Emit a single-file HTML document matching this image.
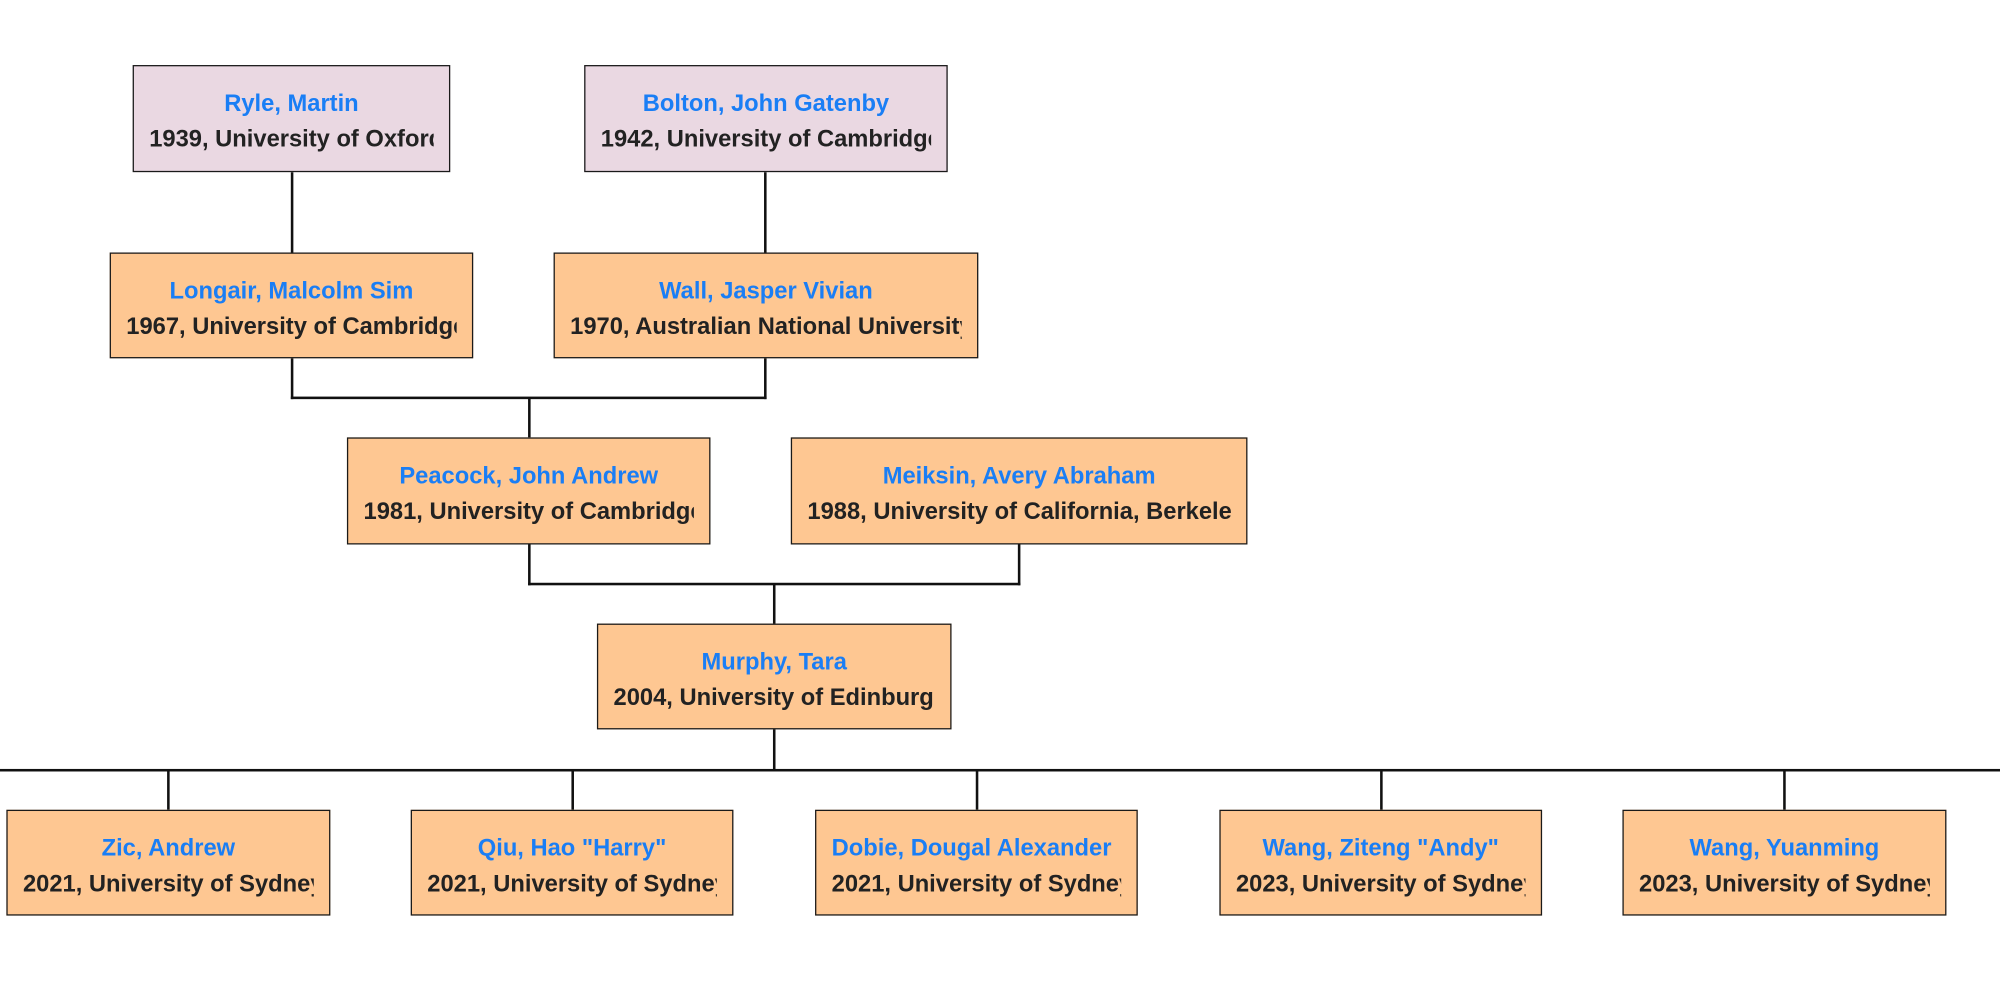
<!DOCTYPE html>
<html><head><meta charset="utf-8"><style>
html,body{margin:0;padding:0;background:#fff;width:2000px;height:987px;overflow:hidden}
#c{position:absolute;left:0;top:0;width:1568px;height:774px;transform:scale(1.27551,1.27519);transform-origin:0 0}
.b{position:absolute;box-sizing:border-box;border:1.8px solid #1a1a1a;background:#fec792;overflow:hidden;font-family:"Liberation Sans",Arial,sans-serif;font-weight:bold;font-size:18.6px;text-align:center;white-space:nowrap}
.p{background:#ead8e2}
.b div{position:absolute;left:12px;right:12px;overflow:hidden;text-align:center}
.n{color:#1a7ef5;top:18px}
.d{color:#222;top:46px}
.l{position:absolute;background:#111}
.h{height:1.6px}
.v{width:1.6px}
</style></head><body><div id="c">
<div class="l v" style="left:228.2px;top:135px;height:63px"></div>
<div class="l v" style="left:599.2px;top:135px;height:63px"></div>
<div class="l v" style="left:228.2px;top:281px;height:32px"></div>
<div class="l v" style="left:599.2px;top:281px;height:32px"></div>
<div class="l h" style="left:228.2px;top:311.2px;width:372.6px"></div>
<div class="l v" style="left:414.2px;top:312px;height:31px"></div>
<div class="l v" style="left:414.2px;top:427px;height:32px"></div>
<div class="l v" style="left:798.2px;top:427px;height:32px"></div>
<div class="l h" style="left:414.2px;top:457.2px;width:385.6px"></div>
<div class="l v" style="left:606.2px;top:458px;height:31px"></div>
<div class="l v" style="left:606.2px;top:572px;height:32px"></div>
<div class="l h" style="left:0;top:603.2px;width:1568px"></div>
<div class="l v" style="left:131.2px;top:604px;height:31px"></div>
<div class="l v" style="left:448.2px;top:604px;height:31px"></div>
<div class="l v" style="left:765.2px;top:604px;height:31px"></div>
<div class="l v" style="left:1082.2px;top:604px;height:31px"></div>
<div class="l v" style="left:1398.2px;top:604px;height:31px"></div>
<div class="b p" style="left:104px;top:51px;width:249px;height:84px"><div class="n">Ryle, Martin</div><div class="d" style="text-align:left">1939, University of Oxford</div></div>
<div class="b p" style="left:458px;top:51px;width:285px;height:84px"><div class="n">Bolton, John Gatenby</div><div class="d" style="text-align:left">1942, University of Cambridge</div></div>
<div class="b" style="left:86px;top:198px;width:285px;height:83px"><div class="n">Longair, Malcolm Sim</div><div class="d" style="text-align:left">1967, University of Cambridge</div></div>
<div class="b" style="left:434px;top:198px;width:333px;height:83px"><div class="n">Wall, Jasper Vivian</div><div class="d" style="text-align:left">1970, Australian National University</div></div>
<div class="b" style="left:272px;top:343px;width:285px;height:84px"><div class="n">Peacock, John Andrew</div><div class="d" style="text-align:left">1981, University of Cambridge</div></div>
<div class="b" style="left:620px;top:343px;width:358px;height:84px"><div class="n">Meiksin, Avery Abraham</div><div class="d" style="text-align:left">1988, University of California, Berkeley</div></div>
<div class="b" style="left:468px;top:489px;width:278px;height:83px"><div class="n">Murphy, Tara</div><div class="d" style="text-align:left">2004, University of Edinburgh</div></div>
<div class="b" style="left:5px;top:635px;width:254px;height:83px"><div class="n">Zic, Andrew</div><div class="d" style="text-align:left">2021, University of Sydney</div></div>
<div class="b" style="left:322px;top:635px;width:253px;height:83px"><div class="n">Qiu, Hao "Harry"</div><div class="d" style="text-align:left">2021, University of Sydney</div></div>
<div class="b" style="left:639px;top:635px;width:253px;height:83px"><div class="n" style="text-align:left">Dobie, Dougal Alexander</div><div class="d" style="text-align:left">2021, University of Sydney</div></div>
<div class="b" style="left:956px;top:635px;width:253px;height:83px"><div class="n">Wang, Ziteng "Andy"</div><div class="d" style="text-align:left">2023, University of Sydney</div></div>
<div class="b" style="left:1272px;top:635px;width:254px;height:83px"><div class="n">Wang, Yuanming</div><div class="d" style="text-align:left">2023, University of Sydney</div></div>
</div></body></html>
